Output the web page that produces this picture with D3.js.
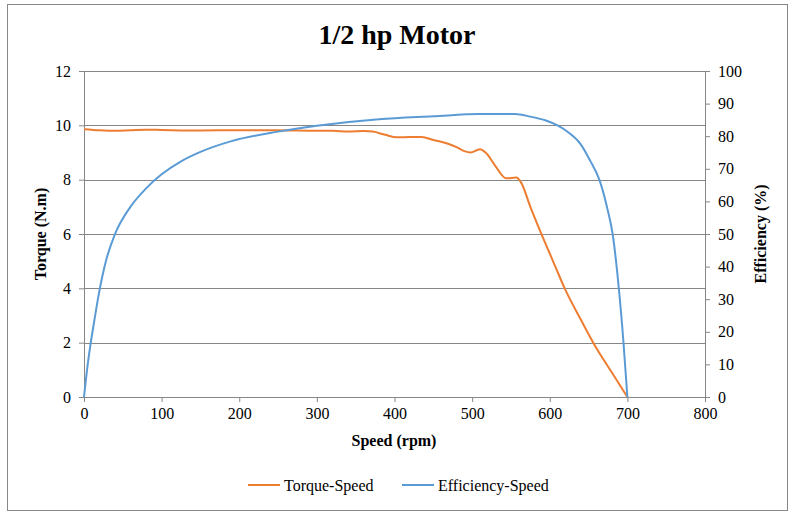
<!DOCTYPE html>
<html>
<head>
<meta charset="utf-8">
<script src="https://cdn.jsdelivr.net/npm/d3@7"></script>
<style>
  body { margin: 0; background: #fff; }
  text { font-family: 'Liberation Serif', 'Times New Roman', serif; fill: #000; }
</style>
</head>
<body>
<script>
// torque curve (rpm, N.m)
const torqueSpeed = [0, 20, 40, 60, 80, 100, 150, 200, 250, 300, 320, 340, 360, 372, 388, 403, 420, 435, 450, 467, 480, 490, 498, 510, 518, 530, 544, 557, 563, 575, 590, 605, 620, 640, 660, 680, 700];
const torque = [9.86, 9.82, 9.80, 9.82, 9.84, 9.83, 9.81, 9.82, 9.82, 9.80, 9.80, 9.77, 9.79, 9.77, 9.65, 9.56, 9.57, 9.57, 9.46, 9.34, 9.2, 9.05, 9.0, 9.12, 8.98, 8.5, 8.05, 8.08, 7.9, 7.0, 5.95, 4.95, 3.95, 2.85, 1.8, 0.9, 0];

// efficiency curve (rpm, %)
const effSpeed = [0, 4, 8, 13, 19, 28, 40, 60, 80, 100, 125, 150, 190, 250, 300, 380, 450, 510, 555, 575, 595, 610, 625, 640, 652, 664, 674, 681, 689, 695, 700];
const efficiency = [0, 8.5, 15.5, 23, 31.5, 41.5, 50, 58.4, 64, 68.3, 72.3, 75.2, 78.5, 81.4, 83.2, 85.2, 86.1, 86.8, 86.8, 86.0, 84.8, 83.3, 81, 77.5, 72.5, 66.6, 58, 50, 33.3, 16.7, 0];

const xTicks = [0, 100, 200, 300, 400, 500, 600, 700, 800];
const torqueTicks = [0, 2, 4, 6, 8, 10, 12];
const effTicks = [0, 10, 20, 30, 40, 50, 60, 70, 80, 90, 100];

const W = 795, H = 515;
const margin = {top: 71, right: 90, bottom: 118, left: 84};
const orange = '#ED7D31', blue = '#5B9BD5', grey = '#868686';

const svg = d3.select('body').append('svg')
  .attr('width', W)
  .attr('height', H);

svg.append('rect')
  .attr('x', 7.5).attr('y', 4.5)
  .attr('width', 780).attr('height', 506)
  .attr('fill', '#fff').attr('stroke', '#888');

const x = d3.scaleLinear().domain([0, 800]).range([margin.left, W - margin.right]);
const yT = d3.scaleLinear().domain([0, 12]).range([H - margin.bottom, margin.top]);
const yE = d3.scaleLinear().domain([0, 100]).range([H - margin.bottom, margin.top]);

// gridlines
svg.append('g')
  .selectAll('line')
  .data(torqueTicks.slice(1))
  .join('line')
  .attr('x1', x(0)).attr('x2', x(800))
  .attr('y1', (d) => Math.round(yT(d)) + 0.5)
  .attr('y2', (d) => Math.round(yT(d)) + 0.5)
  .attr('stroke', grey);

const styleAxis = (g) => {
  g.selectAll('path, line').attr('stroke', grey);
  g.selectAll('text').style('font-size', '16px').style('font-family', 'Liberation Serif, serif').attr('fill', '#000');
};

svg.append('g')
  .attr('transform', `translate(0,${yT(0)})`)
  .call(d3.axisBottom(x).tickValues(xTicks).tickSize(5).tickSizeOuter(0).tickPadding(6))
  .call(styleAxis);

svg.append('g')
  .attr('transform', `translate(${x(0)},0)`)
  .call(d3.axisLeft(yT).tickValues(torqueTicks).tickSize(5).tickSizeOuter(0).tickPadding(8))
  .call(styleAxis);

svg.append('g')
  .attr('transform', `translate(${x(800)},0)`)
  .call(d3.axisRight(yE).tickValues(effTicks).tickSize(5).tickSizeOuter(0).tickPadding(8))
  .call(styleAxis);

const torqueLine = d3.line()
  .x((d, i) => x(torqueSpeed[i]))
  .y((d) => yT(d))
  .curve(d3.curveMonotoneX);

const effLine = d3.line()
  .x((d, i) => x(effSpeed[i]))
  .y((d) => yE(d))
  .curve(d3.curveMonotoneX);

svg.append('path')
  .attr('d', torqueLine(torque))
  .attr('fill', 'none').attr('stroke', orange).attr('stroke-width', 2);

svg.append('path')
  .attr('d', effLine(efficiency))
  .attr('fill', 'none').attr('stroke', blue).attr('stroke-width', 2);

// titles
svg.append('text')
  .attr('x', 397).attr('y', 44)
  .attr('text-anchor', 'middle')
  .style('font-size', '28px').style('font-weight', 'bold')
  .text('1/2 hp Motor');

svg.append('text')
  .attr('x', 394).attr('y', 446)
  .attr('text-anchor', 'middle')
  .style('font-size', '16px').style('font-weight', 'bold')
  .text('Speed (rpm)');

svg.append('text')
  .attr('transform', 'translate(46,234) rotate(-90)')
  .attr('text-anchor', 'middle')
  .style('font-size', '16px').style('font-weight', 'bold')
  .text('Torque (N.m)');

svg.append('text')
  .attr('transform', 'translate(766,234) rotate(-90)')
  .attr('text-anchor', 'middle')
  .style('font-size', '16px').style('font-weight', 'bold')
  .text('Efficiency (%)');

// legend
const legendItems = [
  {name: 'Torque-Speed', color: orange, x: 248},
  {name: 'Efficiency-Speed', color: blue, x: 402}
];
const legend = svg.append('g').selectAll('g')
  .data(legendItems)
  .join('g')
  .attr('transform', (d) => `translate(${d.x},485)`);
legend.append('line')
  .attr('x1', 0).attr('x2', 32)
  .attr('stroke', (d) => d.color).attr('stroke-width', 2);
legend.append('text')
  .attr('x', 36).attr('dy', '0.35em')
  .style('font-size', '16px')
  .text((d) => d.name);
</script>
</body>
</html>
